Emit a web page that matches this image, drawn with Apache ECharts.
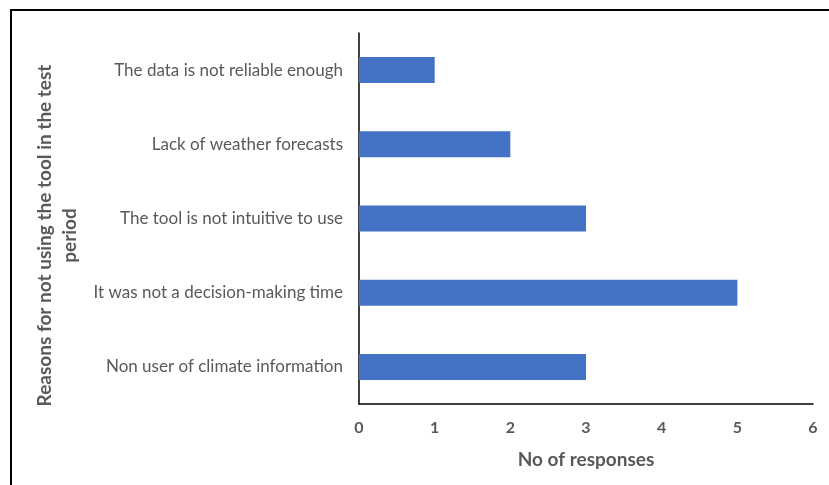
<!DOCTYPE html>
<html><head><meta charset="utf-8">
<script src="https://cdn.jsdelivr.net/npm/echarts@6/dist/echarts.min.js"></script>
<style>
html,body{margin:0;padding:0;background:#fff;overflow:hidden;}
#frame{position:absolute;left:10px;top:9px;width:900px;height:600px;border:2px solid #000;box-sizing:border-box;}
#c{position:absolute;left:0;top:0;width:829px;height:485px;}
</style></head>
<body>
<div id="frame"></div>
<div id="c"></div>
<script>
const categories = [
  "Non user of climate information",
  "It was not a decision-making time",
  "The tool is not intuitive to use",
  "Lack of weather forecasts",
  "The data is not reliable enough"
];
const responses = [3, 5, 3, 2, 1];
const xTicks = [0, 1, 2, 3, 4, 5, 6];

const chart = echarts.init(document.getElementById('c'));
const font = 'Lato, "Open Sans", sans-serif';
chart.setOption({
  animation: false,
  grid: {left: 359, right: 16, top: 33, bottom: 81, containLabel: false},
  xAxis: {
    type: 'value', min: xTicks[0], max: xTicks[xTicks.length-1], interval: 1,
    name: 'No of responses', nameLocation: 'middle', nameGap: 46,
    nameTextStyle: {fontFamily: font, fontWeight: 'bold', fontSize: 19, color: '#595959'},
    axisLine: {show: true, lineStyle: {color: '#000', width: 1.5}},
    axisTick: {show: false},
    splitLine: {show: false},
    axisLabel: {fontFamily: font, fontWeight: 'bold', fontSize: 16, color: '#595959', margin: 16}
  },
  yAxis: {
    type: 'category', data: categories,
    name: 'Reasons for not using the tool in the test\nperiod', nameLocation: 'middle', nameGap: 275,
    nameRotate: 90,
    nameTextStyle: {fontFamily: font, fontWeight: 'bold', fontSize: 19, color: '#595959', lineHeight: 25, align: 'center', padding: [0, 34, 0, 0]},
    axisLine: {show: true, lineStyle: {color: '#000', width: 1.5}},
    axisTick: {show: false},
    axisLabel: {fontFamily: font, fontSize: 17, color: '#595959', margin: 16}
  },
  series: [{
    type: 'bar', data: responses, barWidth: 26,
    itemStyle: {color: '#4472C4'}
  }]
});
</script>
</body></html>
